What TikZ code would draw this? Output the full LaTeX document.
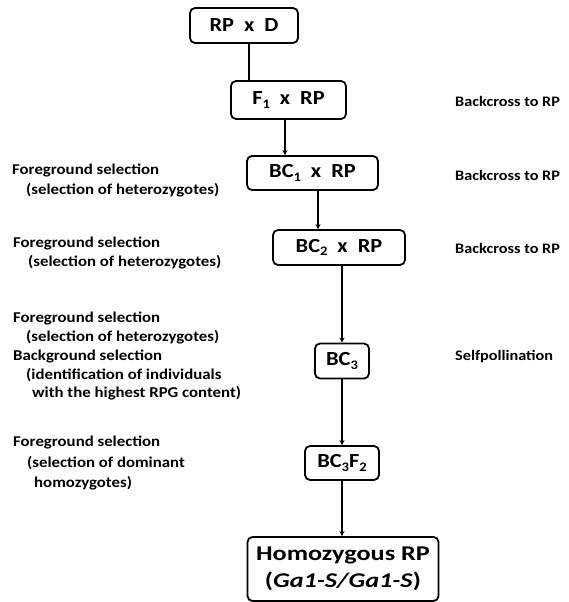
\documentclass[tikz,border=0pt]{standalone}
\usepackage{fontspec}
\setmainfont{Carlito}
\newfontfamily\widefont[FakeStretch=1.12]{Carlito}
\newfontfamily\headfont[FakeStretch=1.25]{Carlito}
\usetikzlibrary{positioning,arrows.meta}

\newcommand{\lowidx}[1]{\raisebox{-0.4ex}{\fontsize{13}{13}\selectfont #1}}

\begin{document}
\begin{tikzpicture}[x=1pt,y=-1pt,
    box/.style={draw,line width=1.8pt,rounded corners=5pt,inner sep=0pt,
                font=\widefont\bfseries\fontsize{20}{22}\selectfont},
    note/.style={anchor=north west,align=left,inner sep=0pt,
                 font=\widefont\bfseries\fontsize{15}{#1}\selectfont},
    side/.style={anchor=west,inner sep=0pt,font=\widefont\bfseries\fontsize{14.5}{17}\selectfont},
    flow/.style={line width=2.6pt,-{Stealth[length=5pt,width=5pt]}}]
  \useasboundingbox (0,0) rectangle (569,602);

  % crossing boxes
  \node[box,minimum width=108pt,minimum height=35pt] (rpd) at (244,25.5) {RP\enspace x\enspace D};
  \node[box,minimum width=115pt,minimum height=38pt] (f1) at (288.5,100) {F\lowidx{1}\enspace x\enspace RP};
  \node[box,minimum width=131pt,minimum height=34pt] (bc1) at (312.5,173) {BC\lowidx{1}\enspace x\enspace RP};
  \node[box,minimum width=132pt,minimum height=35pt] (bc2) at (339,247.5) {BC\lowidx{2}\enspace x\enspace RP};
  \node[box,minimum width=54pt,minimum height=35pt] (bc3) at (342,361) {BC\lowidx{3}};
  \node[box,minimum width=74pt,minimum height=34pt] (bc3f2) at (342,463) {BC\lowidx{3}F\lowidx{2}};
  \node[box,minimum width=191pt,minimum height=64pt,align=center,
        font=\headfont\bfseries\fontsize{21}{27}\selectfont] (hrp) at (343,569)
        {Homozygous RP\\ (\textit{Ga1-S/Ga1-S})};

  % connectors
  \draw[line width=2pt] ([xshift=5pt]rpd.south) -- ([xshift=5pt]rpd.south |- f1.north);
  \draw[flow,line width=2.3pt] ([xshift=-3.5pt]f1.south) -- ([xshift=-3.5pt]f1.south |- bc1.north);
  \draw[flow,line width=2.3pt] ([xshift=5.5pt]bc1.south) -- ([xshift=5.5pt]bc1.south |- bc2.north);
  \draw[flow] (bc2.south -| bc3.north) -- (bc3.north);
  \draw[flow] (bc3) -- (bc3f2);
  \draw[flow] (bc3f2.south) -- (bc3f2.south |- hrp.north);

  % right hand notes
  \node[side] (bk1) at (455,101) {Backcross to RP};
  \node[side] (bk2) at (455,175) {Backcross to RP};
  \node[side] (bk3) at (455,248) {Backcross to RP};
  \node[side] (self) at (455,357) {Selfpollination};

  % left hand notes
  \node[note=20] (sel1) at (12,164) {Foreground selection\\
    \hspace*{14pt}(selection of heterozygotes)};
  \node[note=19] (sel2) at (13,237) {Foreground selection\\
    \hspace*{15pt}(selection of heterozygotes)};
  \node[note=18.8] (sel3) at (13,312) {Foreground selection\\
    \hspace*{13pt}(selection of heterozygotes)\\
    Background selection\\
    \hspace*{13pt}(identification of individuals\\
    \hspace*{19pt}with the highest RPG content)};
  \node[note=20.5] (sel4) at (13,436) {Foreground selection\\
    \hspace*{14pt}(selection of dominant\\
    \hspace*{21pt}homozygotes)};
\end{tikzpicture}
\end{document}
